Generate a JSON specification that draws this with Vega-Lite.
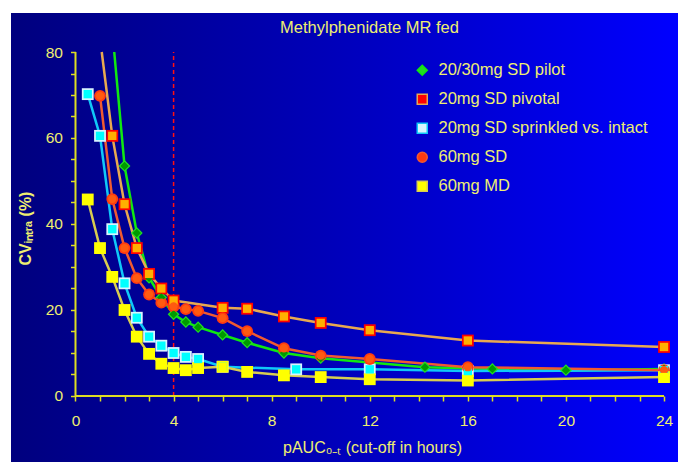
{
  "$schema": "https://vega.github.io/schema/vega-lite/v6.json",
  "width": 667,
  "height": 449,
  "autosize": {"type": "none"},
  "padding": {"left": 11, "top": 13, "right": 0, "bottom": 0},
  "background": "#ffffff",
  "config": {
    "view": {
      "stroke": null,
      "fill": {"gradient": "linear", "x1": 0, "y1": 0, "x2": 1, "y2": 0,
        "stops": [{"offset": 0, "color": "#00007E"}, {"offset": 0.5, "color": "#0000BC"}, {"offset": 1, "color": "#0000FF"}]}
    },
    "font": "Liberation Sans",
    "legend": {
      "orient": "none", "legendX": 403, "legendY": 49,
      "padding": 0,
      "labelColor": "#EEEE70", "labelFont": "Liberation Sans", "labelFontSize": 16.5, "labelLimit": 400,
      "labelOffset": 8, "rowPadding": 12, "symbolSize": 100, "symbolStrokeWidth": 1.5
    }
  },
  "title": {
    "text": "Methylphenidate MR fed",
    "color": "#EEEE70",
    "font": "Liberation Sans",
    "fontSize": 16.5,
    "fontWeight": "normal",
    "anchor": "middle",
    "frame": "group",
    "offset": 0,
    "baseline": "bottom",
    "dx": 25,
    "dy": 39
  },
  "datasets": {
    "pts": [
      {"series": "20/30mg SD pilot", "t": 1.58, "cv": 80},
      {"series": "20/30mg SD pilot", "t": 2, "cv": 53.5},
      {"series": "20/30mg SD pilot", "t": 2.5, "cv": 37.9},
      {"series": "20/30mg SD pilot", "t": 3, "cv": 27.5},
      {"series": "20/30mg SD pilot", "t": 3.5, "cv": 22.9},
      {"series": "20/30mg SD pilot", "t": 4, "cv": 19},
      {"series": "20/30mg SD pilot", "t": 4.5, "cv": 17.2},
      {"series": "20/30mg SD pilot", "t": 5, "cv": 16},
      {"series": "20/30mg SD pilot", "t": 6, "cv": 14.2},
      {"series": "20/30mg SD pilot", "t": 7, "cv": 12.4},
      {"series": "20/30mg SD pilot", "t": 8.5, "cv": 10},
      {"series": "20/30mg SD pilot", "t": 10, "cv": 8.8},
      {"series": "20/30mg SD pilot", "t": 14.25, "cv": 6.7},
      {"series": "20/30mg SD pilot", "t": 17, "cv": 6.3},
      {"series": "20/30mg SD pilot", "t": 20, "cv": 6.0},
      {"series": "20/30mg SD pilot", "t": 24, "cv": 6.3},

      {"series": "20mg SD pivotal", "t": 1.07, "cv": 80},
      {"series": "20mg SD pivotal", "t": 1.5, "cv": 60.5},
      {"series": "20mg SD pivotal", "t": 2, "cv": 44.6},
      {"series": "20mg SD pivotal", "t": 2.5, "cv": 34.4},
      {"series": "20mg SD pivotal", "t": 3, "cv": 28.4},
      {"series": "20mg SD pivotal", "t": 3.5, "cv": 25},
      {"series": "20mg SD pivotal", "t": 4, "cv": 22.2},
      {"series": "20mg SD pivotal", "t": 6, "cv": 20.5},
      {"series": "20mg SD pivotal", "t": 7, "cv": 20.3},
      {"series": "20mg SD pivotal", "t": 8.5, "cv": 18.5},
      {"series": "20mg SD pivotal", "t": 10, "cv": 17},
      {"series": "20mg SD pivotal", "t": 12, "cv": 15.3},
      {"series": "20mg SD pivotal", "t": 16, "cv": 12.9},
      {"series": "20mg SD pivotal", "t": 24, "cv": 11.4},

      {"series": "20mg SD sprinkled vs. intact", "t": 0.5, "cv": 70.2},
      {"series": "20mg SD sprinkled vs. intact", "t": 1, "cv": 60.5},
      {"series": "20mg SD sprinkled vs. intact", "t": 1.5, "cv": 38.8},
      {"series": "20mg SD sprinkled vs. intact", "t": 2, "cv": 26.2},
      {"series": "20mg SD sprinkled vs. intact", "t": 2.5, "cv": 18.2},
      {"series": "20mg SD sprinkled vs. intact", "t": 3, "cv": 13.8},
      {"series": "20mg SD sprinkled vs. intact", "t": 3.5, "cv": 11.7},
      {"series": "20mg SD sprinkled vs. intact", "t": 4, "cv": 10.0},
      {"series": "20mg SD sprinkled vs. intact", "t": 4.5, "cv": 9.1},
      {"series": "20mg SD sprinkled vs. intact", "t": 5, "cv": 8.6},
      {"series": "20mg SD sprinkled vs. intact", "t": 6, "cv": 6.8},
      {"series": "20mg SD sprinkled vs. intact", "t": 9, "cv": 6.2},
      {"series": "20mg SD sprinkled vs. intact", "t": 12, "cv": 6.2},
      {"series": "20mg SD sprinkled vs. intact", "t": 16, "cv": 5.8},
      {"series": "20mg SD sprinkled vs. intact", "t": 24, "cv": 6.0},

      {"series": "60mg SD", "t": 1, "cv": 69.8},
      {"series": "60mg SD", "t": 1.5, "cv": 45.8},
      {"series": "60mg SD", "t": 2, "cv": 34.4},
      {"series": "60mg SD", "t": 2.5, "cv": 27.4},
      {"series": "60mg SD", "t": 3, "cv": 23.6},
      {"series": "60mg SD", "t": 3.5, "cv": 21.7},
      {"series": "60mg SD", "t": 4, "cv": 20.8},
      {"series": "60mg SD", "t": 4.5, "cv": 20.2},
      {"series": "60mg SD", "t": 5, "cv": 19.8},
      {"series": "60mg SD", "t": 6, "cv": 18.1},
      {"series": "60mg SD", "t": 7, "cv": 15.1},
      {"series": "60mg SD", "t": 8.5, "cv": 11.1},
      {"series": "60mg SD", "t": 10, "cv": 9.4},
      {"series": "60mg SD", "t": 12, "cv": 8.6},
      {"series": "60mg SD", "t": 16, "cv": 6.7},
      {"series": "60mg SD", "t": 24, "cv": 6.0},

      {"series": "60mg MD", "t": 0.5, "cv": 45.7},
      {"series": "60mg MD", "t": 1, "cv": 34.4},
      {"series": "60mg MD", "t": 1.5, "cv": 27.7},
      {"series": "60mg MD", "t": 2, "cv": 20.0},
      {"series": "60mg MD", "t": 2.5, "cv": 13.8},
      {"series": "60mg MD", "t": 3, "cv": 9.8},
      {"series": "60mg MD", "t": 3.5, "cv": 7.5},
      {"series": "60mg MD", "t": 4, "cv": 6.5},
      {"series": "60mg MD", "t": 4.5, "cv": 6.0},
      {"series": "60mg MD", "t": 5, "cv": 6.5},
      {"series": "60mg MD", "t": 6, "cv": 6.8},
      {"series": "60mg MD", "t": 7, "cv": 5.6},
      {"series": "60mg MD", "t": 8.5, "cv": 4.8},
      {"series": "60mg MD", "t": 10, "cv": 4.4},
      {"series": "60mg MD", "t": 12, "cv": 3.9},
      {"series": "60mg MD", "t": 16, "cv": 3.6},
      {"series": "60mg MD", "t": 24, "cv": 4.4}
    ]
  },
  "encoding": {
    "x": {
      "field": "t", "type": "quantitative",
      "scale": {"domain": [-2.63, 24.57], "nice": false, "zero": false},
      "axis": {
        "title": "pAUC₀₋ₜ (cut-off in hours)",
        "values": [0,1,2,3,4,5,6,7,8,9,10,11,12,13,14,15,16,17,18,19,20,21,22,23,24],
        "labelExpr": "datum.value % 4 === 0 ? datum.label : ''",
        "labelOverlap": false, "labelFlush": false,
        "domain": false, "grid": false,
        "offset": -66,
        "tickSize": 5, "tickWidth": 1.5, "tickColor": "#DDDD22",
        "labelColor": "#EEEE70", "labelFont": "Liberation Sans", "labelFontSize": 15.5, "labelPadding": 12,
        "titleColor": "#EEEE70", "titleFont": "Liberation Sans", "titleFontSize": 16, "titleFontWeight": "normal",
        "titleX": 361, "titleY": 51, "titleBaseline": "middle", "titleAlign": "center"
      }
    },
    "y": {
      "field": "cv", "type": "quantitative",
      "scale": {"domain": [-15.35, 89.07], "nice": false, "zero": false},
      "axis": {
        "title": "CVᵢₙₜᵣₐ (%)",
        "values": [0,5,10,15,20,25,30,35,40,45,50,55,60,65,70,75,80],
        "labelExpr": "datum.value % 20 === 0 ? datum.label : ''",
        "labelOverlap": false, "labelFlush": false,
        "domain": false, "grid": false,
        "offset": -64.5,
        "tickSize": 5, "tickWidth": 1.5, "tickColor": "#DDDD22",
        "labelColor": "#EEEE70", "labelFont": "Liberation Sans", "labelFontSize": 15.5, "labelPadding": 8,
        "titleColor": "#EEEE70", "titleFont": "Liberation Sans", "titleFontSize": 16, "titleFontWeight": "bold",
        "titleX": -50, "titleY": 215, "titleBaseline": "middle", "titleAlign": "center", "titleAngle": -90
      }
    }
  },
  "layer": [
    {
      "data": {"values": [{"t": 4, "cv": 0, "cv2": 80}]},
      "mark": {"type": "rule", "color": "#FF1010", "strokeWidth": 1.5, "strokeDash": [4, 3]},
      "encoding": {"y2": {"field": "cv2"}}
    },
    {
      "data": {"name": "pts"},
      "mark": {"type": "line", "strokeWidth": 2.5, "interpolate": "linear"},
      "encoding": {
        "stroke": {
          "field": "series", "type": "nominal",
          "scale": {
            "domain": ["20/30mg SD pilot", "20mg SD pivotal", "20mg SD sprinkled vs. intact", "60mg SD", "60mg MD"],
            "range": ["#10E810", "#E8A850", "#10C8F8", "#F05A30", "#D8CC50"]
          },
          "legend": {"title": null}
        }
      }
    },
    {
      "data": {"name": "pts"},
      "transform": [{"filter": "datum.cv < 80"}],
      "mark": {"type": "point", "filled": true, "size": 140, "opacity": 1},
      "encoding": {
        "color": {
          "field": "series", "type": "nominal",
          "scale": {
            "domain": ["20/30mg SD pilot", "20mg SD pivotal", "20mg SD sprinkled vs. intact", "60mg SD", "60mg MD"],
            "range": ["#20E020", "#FF0000", "#D8F4FF", "#FF3A10", "#FFFF00"]
          },
          "legend": null
        },
        "shape": {
          "field": "series", "type": "nominal",
          "scale": {
            "domain": ["20/30mg SD pilot", "20mg SD pivotal", "20mg SD sprinkled vs. intact", "60mg SD", "60mg MD"],
            "range": ["diamond", "square", "square", "circle", "square"]
          },
          "legend": {"title": null}
        }
      }
    },
    {
      "data": {"name": "pts"},
      "transform": [{"filter": "datum.cv < 80"}],
      "mark": {"type": "point", "filled": true, "size": 70, "opacity": 1, "strokeWidth": 0},
      "encoding": {
        "fill": {
          "field": "series", "type": "nominal",
          "scale": {
            "domain": ["20/30mg SD pilot", "20mg SD pivotal", "20mg SD sprinkled vs. intact", "60mg SD", "60mg MD"],
            "range": ["#009A00", "#FFB000", "#00FFFF", "#FF5A10", "#FFFF00"]
          },
          "legend": {"title": null}
        },
        "shape": {
          "field": "series", "type": "nominal"
        }
      }
    },
    {
      "data": {"values": [{"t": 0, "t2": 24, "cv": 0}]},
      "mark": {"type": "rule", "color": "#DDDD22", "strokeWidth": 2},
      "encoding": {"x2": {"field": "t2"}}
    },
    {
      "data": {"values": [{"t": 0, "cv": 0, "cv2": 80}]},
      "mark": {"type": "rule", "color": "#DDDD22", "strokeWidth": 2},
      "encoding": {"y2": {"field": "cv2"}}
    }
  ]
}
